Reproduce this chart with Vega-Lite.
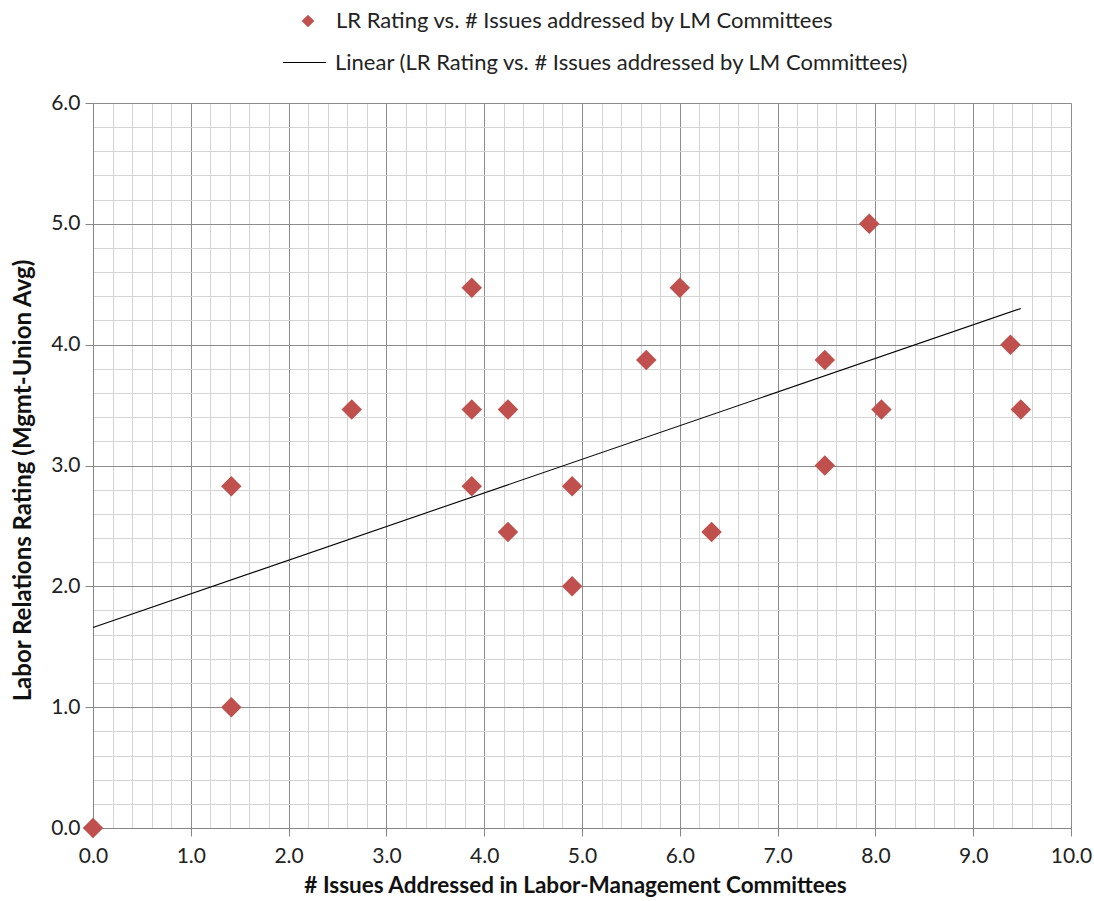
{
  "$schema": "https://vega.github.io/schema/vega-lite/v6.json",
  "width": 978,
  "height": 725,
  "autosize": "none",
  "padding": {"left": 93, "top": 103, "right": 23, "bottom": 73},
  "background": "white",
  "config": {
    "font": "Lato",
    "view": {"stroke": null},
    "axis": {"labelFont": "Lato", "titleFont": "Lato", "labelColor": "#222", "titleColor": "#111"}
  },
  "datasets": {
    "pts": [
      {"x": 0.0, "y": 0.0},
      {"x": 1.414, "y": 2.828},
      {"x": 1.414, "y": 1.0},
      {"x": 2.646, "y": 3.464},
      {"x": 3.873, "y": 4.472},
      {"x": 3.873, "y": 3.464},
      {"x": 3.873, "y": 2.828},
      {"x": 4.243, "y": 3.464},
      {"x": 4.243, "y": 2.449},
      {"x": 4.899, "y": 2.828},
      {"x": 4.899, "y": 2.0},
      {"x": 5.657, "y": 3.873},
      {"x": 6.0, "y": 4.472},
      {"x": 6.325, "y": 2.449},
      {"x": 7.483, "y": 3.873},
      {"x": 7.483, "y": 3.0},
      {"x": 7.937, "y": 5.0},
      {"x": 8.062, "y": 3.464},
      {"x": 9.381, "y": 4.0},
      {"x": 9.487, "y": 3.464}
    ],
    "trend": [
      {"x": 0.0, "y": 1.66},
      {"x": 9.487, "y": 4.30}
    ]
  },
  "layer": [
    {
      "data": {"name": "trend"},
      "mark": {"type": "line", "strokeWidth": 1.1},
      "encoding": {
        "x": {"field": "x", "type": "quantitative", "scale": {"domain": [0, 10], "nice": false, "zero": false},
          "axis": {"orient": "bottom", "values": [0.2,0.4,0.6,0.8,1.2,1.4,1.6,1.8,2.2,2.4,2.6,2.8,3.2,3.4,3.6,3.8,4.2,4.4,4.6,4.8,5.2,5.4,5.6,5.8,6.2,6.4,6.6,6.8,7.2,7.4,7.6,7.8,8.2,8.4,8.6,8.8,9.2,9.4,9.6,9.8],
            "labels": false, "ticks": false, "domain": false, "title": null, "grid": true, "gridColor": "#d4d4d4", "gridWidth": 1, "gridOpacity": 1}},
        "y": {"field": "y", "type": "quantitative", "scale": {"domain": [0, 6], "nice": false, "zero": false},
          "axis": {"orient": "left", "values": [0.2,0.4,0.6,0.8,1.2,1.4,1.6,1.8,2.2,2.4,2.6,2.8,3.2,3.4,3.6,3.8,4.2,4.4,4.6,4.8,5.2,5.4,5.6,5.8],
            "labels": false, "ticks": false, "domain": false, "title": null, "grid": true, "gridColor": "#d4d4d4", "gridWidth": 1, "gridOpacity": 1}},
        "stroke": {"datum": "Linear (LR Rating vs. # Issues addressed by LM Committees)",
          "scale": {"range": ["#000000"]},
          "legend": {"orient": "none", "legendX": 189, "legendY": -63, "title": null, "symbolType": "stroke", "symbolSize": 1849, "symbolStrokeWidth": 1.1, "labelFontSize": 22, "labelFont": "Lato", "labelColor": "#222", "labelOffset": 8, "labelLimit": 900}}
      }
    },
    {
      "data": {"name": "pts"},
      "mark": {"type": "point", "shape": "diamond", "filled": true, "size": 420, "opacity": 1},
      "encoding": {
        "x": {"field": "x", "type": "quantitative",
          "axis": {"orient": "bottom", "values": [0,1,2,3,4,5,6,7,8,9,10], "format": ".1f", "labelFontSize": 21, "labelPadding": 9, "labelFlush": false,
            "ticks": true, "tickSize": 8, "tickColor": "#868686", "domain": true, "domainColor": "#868686", "grid": true, "gridColor": "#8c8c8c", "gridOpacity": 1,
            "title": "# Issues Addressed in Labor-Management Committees", "titleFontSize": 22.5, "titleFontWeight": "bold", "titlePadding": 8, "titleX": 482}},
        "y": {"field": "y", "type": "quantitative",
          "axis": {"orient": "left", "values": [0,1,2,3,4,5,6], "format": ".1f", "labelFontSize": 21, "labelPadding": 5, "labelFlush": false,
            "ticks": true, "tickSize": 8, "tickColor": "#868686", "domain": true, "domainColor": "#868686", "grid": true, "gridColor": "#8c8c8c", "gridOpacity": 1,
            "title": "Labor Relations Rating (Mgmt-Union Avg)", "titleFontSize": 24, "titleFontWeight": "bold", "titlePadding": 15, "titleY": 377}},
        "fill": {"datum": "LR Rating vs. # Issues addressed by LM Committees",
          "scale": {"range": ["#c0504d"]},
          "legend": {"orient": "none", "legendX": 204, "legendY": -93, "title": null, "symbolType": "diamond", "symbolSize": 160, "symbolStrokeWidth": 0, "labelFontSize": 22, "labelFont": "Lato", "labelColor": "#222", "labelOffset": 17, "labelLimit": 900}}
      }
    }
  ],
  "resolve": {"axis": {"x": "independent", "y": "independent"}}
}
